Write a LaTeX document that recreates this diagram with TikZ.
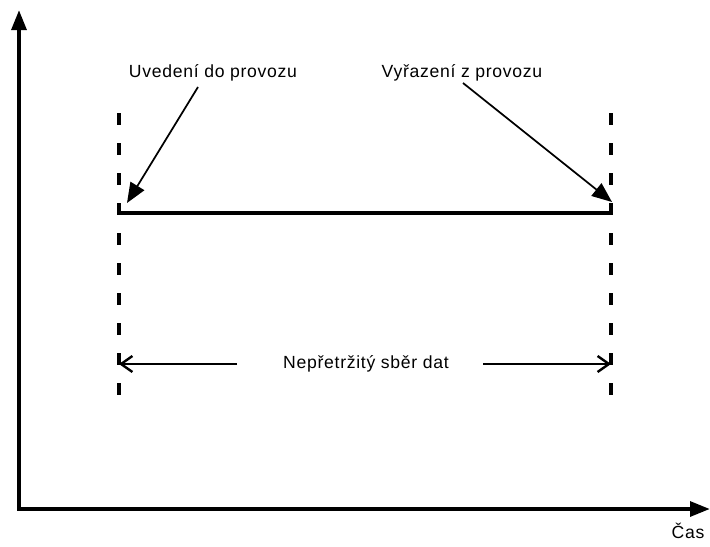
\documentclass[tikz,border=0pt]{standalone}
\usepackage{fontspec}
\setmainfont{Liberation Sans}
\usetikzlibrary{arrows.meta}
\begin{document}
\begin{tikzpicture}[x=0.75pt,y=-0.75pt,
  axis/.style={line width=3pt,-{Triangle[length=15pt,width=11pt]}},
  guide/.style={line width=2.6pt,dash pattern=on 9pt off 13.5pt},
  callout/.style={line width=1.3pt,-{Triangle[length=15pt,width=12pt]}},
  span/.style={line width=1.7pt,-{Straight Barb[length=8.5pt,width=12pt,line width=1.8pt]}},
  lbl/.style={inner sep=0pt,font=\fontsize{13.2pt}{15pt}\selectfont\addfontfeatures{LetterSpace=4}}]
\useasboundingbox (0,0) rectangle (710,546);
% axes
\coordinate (origin) at (19,509);
\coordinate (ytop) at (19,10);
\coordinate (xend) at (710,509);
\draw[axis] (origin) -- (ytop);
\draw[axis] ([xshift=-1.5pt]origin) -- (xend);
% guides
\coordinate (g1t) at (119,113);
\coordinate (g1b) at (119,405);
\coordinate (g2t) at (611,113);
\coordinate (g2b) at (611,405);
\draw[guide] (g1t) -- (g1b);
\draw[guide] (g2t) -- (g2b);
% operating line
\coordinate (start) at (119,213);
\coordinate (stop) at (611,213);
\draw[line width=2.6pt] (start) -- (stop);
% labels
\node[lbl] (uv) at (213,73) {Uvedení do provozu};
\node[lbl] (vy) at (462,73) {Vyřazení z provozu};
\node[lbl] (ns) at (366,364) {Nepřetržitý sběr dat};
\node[lbl] (cas) at (688,531) {Čas};
% callouts
\coordinate (uvs) at (198,87);
\coordinate (uvt) at (127,203);
\coordinate (vys) at (463,83);
\coordinate (vyt) at (612,202);
\draw[callout] (uvs) -- (uvt);
\draw[callout] (vys) -- (vyt);
% span arrows
\coordinate (sl) at (119,364);
\coordinate (sr) at (611,364);
\draw[span] (237,364) -- (sl);
\draw[span] (483,364) -- (sr);
\end{tikzpicture}
\end{document}
